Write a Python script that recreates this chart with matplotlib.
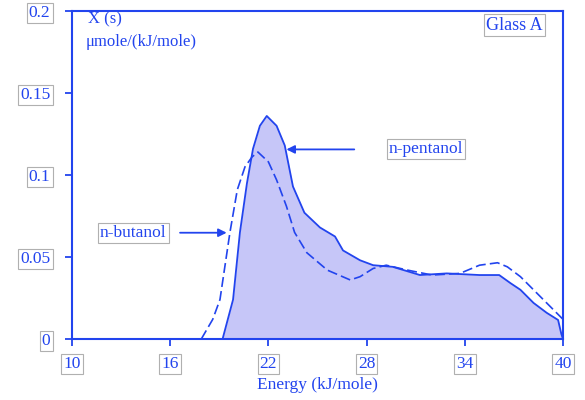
import matplotlib
matplotlib.use("Agg")
import matplotlib.pyplot as plt

# Data
pent_E = [12.7, 17.9, 19.2, 19.84, 20.26, 20.69, 21.06, 21.48, 21.9, 22.5, 23.0, 23.5, 24.2, 25.15,
          26.07, 26.56, 27.6, 28.4, 29.6, 31.26, 32.9, 34.9, 36.1, 36.8, 37.4, 38.2, 39.0, 39.7, 39.9, 40.0]
pent_X = [0.0, 0.0, 0.0, 0.024, 0.065, 0.095, 0.116, 0.130, 0.136, 0.130, 0.118, 0.093, 0.077, 0.068,
          0.0625, 0.054, 0.048, 0.045, 0.044, 0.039, 0.040, 0.039, 0.039, 0.034, 0.030, 0.022, 0.016, 0.0116, 0.003, 0.0]

but_E = [12.7, 17.9, 18.6, 19.04, 19.65, 20.1, 20.57, 21.0, 21.36, 22.0, 22.5, 23.1, 23.6, 24.35, 25.6,
         27.0, 27.6, 28.4, 29.2, 30.5, 32.0, 33.7, 34.9, 36.0, 36.6, 37.4, 38.2, 39.0, 39.6, 40.0]
but_X = [0.0, 0.0, 0.012, 0.024, 0.065, 0.091, 0.105, 0.111, 0.114, 0.108, 0.097, 0.081, 0.065, 0.0526, 0.042,
         0.036, 0.038, 0.043, 0.045, 0.042, 0.039, 0.040, 0.045, 0.0465, 0.044, 0.038, 0.030, 0.022, 0.016, 0.012]

x_ticks = [10, 16, 22, 28, 34, 40]
y_ticks = [0, 0.05, 0.1, 0.15, 0.2]
y_tick_labels = ["0", "0.05", "0.1", "0.15", "0.2"]

blue = "#2244ee"
fill = "#c6c6f8"
font = "Liberation Serif"

fig = plt.figure(figsize=(5.85, 4.0), dpi=100)
ax = fig.add_axes([72/585, 1-339/400, (563-72)/585, (339-11)/400])

ax.fill_between(pent_E, pent_X, 0, color=fill, lw=0)
ax.plot(pent_E, pent_X, color=blue, lw=1.3)
ax.plot(but_E, but_X, color=blue, lw=1.2, dashes=(6, 2.5))

ax.set_xlim(10, 40)
ax.set_ylim(0, 0.2)
ax.set_xticks(x_ticks)
ax.set_xticklabels([str(t) for t in x_ticks])
ax.set_yticks(y_ticks)
ax.set_yticklabels(y_tick_labels)

for s in ax.spines.values():
    s.set_color(blue)
    s.set_linewidth(1.5)

ax.tick_params(axis="both", colors=blue, length=5, width=1.3, direction="out", labelsize=12.5)
ax.tick_params(axis="x", pad=7)
ax.tick_params(axis="y", pad=10.5)
box = dict(boxstyle="square,pad=0.12", fc="white", ec="#b0b0b0", lw=0.8)
for lab in ax.get_xticklabels() + ax.get_yticklabels():
    lab.set_fontfamily(font)
    lab.set_color(blue)
    lab.set_bbox(box)

ax.set_xlabel("Energy (kJ/mole)", fontfamily=font, fontsize=12.5, color=blue, labelpad=4)

ax.text(88/585, 1-19/400, "X (s)", transform=fig.transFigure, fontfamily=font, fontsize=12,
        color=blue, va="center", ha="left")
ax.text(86/585, 1-42/400, "\u03bcmole/(kJ/mole)", transform=fig.transFigure, fontfamily=font,
        fontsize=12, color=blue, va="center", ha="left")
ax.text(543/585, 1-25/400, "Glass A", transform=fig.transFigure, fontfamily=font, fontsize=13,
        color=blue, va="center", ha="right", bbox=box)

ax.annotate("n-pentanol", xy=(23.1, 0.1156), xytext=(29.35, 0.1156), fontfamily=font, fontsize=12.5,
            color=blue, va="center", ha="left", bbox=box,
            arrowprops=dict(arrowstyle="-|>", color=blue, lw=1.3, shrinkA=23, shrinkB=0, mutation_scale=12))
ax.annotate("n-butanol", xy=(19.45, 0.0648), xytext=(11.7, 0.0648), fontfamily=font, fontsize=12.5,
            color=blue, va="center", ha="left", bbox=box,
            arrowprops=dict(arrowstyle="-|>", color=blue, lw=1.3, shrinkA=8, shrinkB=0, mutation_scale=12))

fig.savefig("out.png", dpi=100)
